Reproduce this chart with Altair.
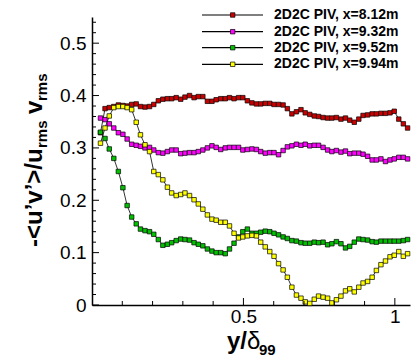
import altair as alt
import pandas as pd

# Wall-normal positions y/delta99 shared by all PIV profiles
X = [0.028, 0.043, 0.057, 0.072, 0.087, 0.102, 0.116, 0.131, 0.146, 0.160,
     0.175, 0.190, 0.204, 0.219, 0.234, 0.249, 0.263, 0.278, 0.293, 0.307,
     0.322, 0.337, 0.351, 0.366, 0.381, 0.396, 0.410, 0.425, 0.440, 0.454,
     0.469, 0.484, 0.498, 0.513, 0.528, 0.543, 0.557, 0.572, 0.587, 0.601,
     0.616, 0.631, 0.645, 0.660, 0.675, 0.690, 0.704, 0.719, 0.734, 0.748,
     0.763, 0.778, 0.792, 0.807, 0.822, 0.837, 0.851, 0.866, 0.881, 0.895,
     0.910, 0.925, 0.939, 0.954, 0.969, 0.984, 0.998, 1.013, 1.028, 1.042]

# Correlation coefficient -<u'v'>/(u_rms v_rms) per streamwise station
X812 = [0.329, 0.375, 0.377, 0.379, 0.382, 0.381, 0.380, 0.383, 0.384, 0.379,
        0.378, 0.379, 0.383, 0.390, 0.393, 0.394, 0.394, 0.396, 0.393, 0.397,
        0.400, 0.396, 0.398, 0.398, 0.389, 0.389, 0.392, 0.394, 0.394, 0.396,
        0.394, 0.396, 0.396, 0.390, 0.386, 0.384, 0.384, 0.385, 0.385, 0.383,
        0.383, 0.382, 0.375, 0.365, 0.369, 0.373, 0.367, 0.364, 0.361, 0.360,
        0.358, 0.357, 0.357, 0.358, 0.355, 0.357, 0.353, 0.349, 0.355, 0.362,
        0.363, 0.365, 0.365, 0.366, 0.366, 0.367, 0.370, 0.355, 0.346, 0.338]
X932 = [0.357, 0.354, 0.346, 0.338, 0.329, 0.326, 0.317, 0.307, 0.305, 0.303,
        0.300, 0.301, 0.296, 0.291, 0.290, 0.293, 0.296, 0.296, 0.289, 0.290,
        0.291, 0.291, 0.293, 0.296, 0.300, 0.304, 0.301, 0.297, 0.300, 0.301,
        0.301, 0.301, 0.296, 0.297, 0.298, 0.297, 0.293, 0.290, 0.291, 0.291,
        0.287, 0.295, 0.302, 0.304, 0.307, 0.305, 0.307, 0.304, 0.305, 0.305,
        0.301, 0.296, 0.293, 0.295, 0.292, 0.294, 0.289, 0.290, 0.290, 0.288,
        0.284, 0.277, 0.277, 0.279, 0.274, 0.277, 0.279, 0.282, 0.282, 0.279]
X952 = [0.330, 0.318, 0.298, 0.280, 0.255, 0.224, 0.190, 0.168, 0.155, 0.145,
        0.142, 0.140, 0.135, 0.125, 0.114, 0.116, 0.119, 0.123, 0.126, 0.125,
        0.124, 0.119, 0.116, 0.113, 0.107, 0.103, 0.100, 0.100, 0.098, 0.107,
        0.118, 0.130, 0.140, 0.145, 0.137, 0.137, 0.139, 0.141, 0.140, 0.137,
        0.134, 0.130, 0.127, 0.123, 0.122, 0.119, 0.118, 0.118, 0.120, 0.119,
        0.120, 0.115, 0.117, 0.121, 0.117, 0.109, 0.112, 0.120, 0.126, 0.125,
        0.124, 0.121, 0.120, 0.122, 0.122, 0.122, 0.122, 0.122, 0.123, 0.125]
X994 = [0.309, 0.338, 0.361, 0.377, 0.379, 0.379, 0.377, 0.373, 0.349, 0.325,
        0.306, 0.293, 0.255, 0.249, 0.239, 0.225, 0.214, 0.209, 0.211, 0.214,
        0.209, 0.201, 0.193, 0.183, 0.172, 0.164, 0.162, 0.158, 0.158, 0.151,
        0.137, 0.128, 0.130, 0.132, 0.133, 0.132, 0.120, 0.111, 0.102, 0.093,
        0.079, 0.067, 0.053, 0.034, 0.019, 0.013, 0.006, 0.003, 0.011, 0.017,
        0.015, 0.013, 0.004, 0.010, 0.017, 0.027, 0.031, 0.025, 0.034, 0.042,
        0.045, 0.053, 0.066, 0.077, 0.084, 0.092, 0.095, 0.102, 0.093, 0.098]

LABELS = ["2D2C PIV, x=8.12m", "2D2C PIV, x=9.32m",
          "2D2C PIV, x=9.52m", "2D2C PIV, x=9.94m"]
COLORS = ["#cc0000", "#ff00ff", "#00c000", "#ffff00"]

Y_TICKS = [0, 0.1, 0.2, 0.3, 0.4, 0.5]
X_TICKS = [0.5, 1]
Y_MINOR = [round(k * 0.02, 2) for k in range(1, 28) if k % 5]
X_MINOR = [0.1, 0.2, 0.3, 0.4, 0.6, 0.7, 0.8, 0.9]

rows = []
for label, ys in zip(LABELS, [X812, X932, X952, X994]):
    for xv, yv in zip(X, ys):
        rows.append({"series": label, "x": xv, "y": yv})
df = pd.DataFrame(rows)

W, H = 318, 288
FONT = "Liberation Sans"
xscale = alt.Scale(domain=[0, 1.05], nice=False, zero=False)
yscale = alt.Scale(domain=[0, 0.55], nice=False)

axis_style = dict(domainColor="black", domainWidth=1.5, ticks=False, grid=False,
                  labelFont=FONT, labelFontSize=19, labelColor="black",
                  format="~g", title=None)
X_AXIS = alt.Axis(values=X_TICKS, labelPadding=2, **axis_style)
Y_AXIS = alt.Axis(values=Y_TICKS, labelPadding=6, **axis_style)

lines = alt.Chart(df).mark_line(color="black", strokeWidth=0.8).encode(
    x=alt.X("x:Q", scale=xscale, axis=X_AXIS),
    y=alt.Y("y:Q", scale=yscale, axis=Y_AXIS),
    detail="series:N",
)
points = alt.Chart(df).mark_square(size=20, stroke="black", strokeWidth=0.7,
                                   opacity=1).encode(
    x=alt.X("x:Q", scale=xscale, axis=X_AXIS),
    y=alt.Y("y:Q", scale=yscale, axis=Y_AXIS),
    fill=alt.Fill("series:N", scale=alt.Scale(domain=LABELS, range=COLORS),
                  legend=None),
)

# inward-pointing tick marks
def yticks(vals, length):
    return alt.Chart(pd.DataFrame({"y": vals})).mark_rule(
        color="black", strokeWidth=1).encode(
        y=alt.Y("y:Q", scale=yscale, axis=Y_AXIS),
        x=alt.value(0), x2=alt.value(length))

def xticks(vals, length):
    return alt.Chart(pd.DataFrame({"x": vals})).mark_rule(
        color="black", strokeWidth=1).encode(
        x=alt.X("x:Q", scale=xscale, axis=X_AXIS),
        y=alt.value(H), y2=alt.value(H - length))

ticks = [yticks(Y_TICKS, 7), yticks(Y_MINOR, 4),
         xticks(X_TICKS, 7), xticks(X_MINOR, 4)]

# legend block in the upper right
legend = []
row_y = [-2, 14.7, 30.7, 47.3]
for label, color, ly in zip(LABELS, COLORS, row_y):
    d = pd.DataFrame({"series": [label]})
    legend.append(alt.Chart(d).mark_rule(color="black", strokeWidth=1.2).encode(
        x=alt.value(110), x2=alt.value(171), y=alt.value(ly)))
    legend.append(alt.Chart(d).mark_square(size=20, stroke="black",
                                           strokeWidth=0.7, opacity=1).encode(
        x=alt.value(140.7), y=alt.value(ly), fill=alt.value(color)))
    legend.append(alt.Chart(d).mark_text(
        align="left", baseline="middle", font=FONT, fontSize=14,
        fontWeight="bold", color="black").encode(
        x=alt.value(182), y=alt.value(ly), text="series:N"))

def label_text(txt, x, y, size, angle=0, weight="bold"):
    return alt.Chart(pd.DataFrame({"t": [txt]})).mark_text(
        align="left", baseline="alphabetic", font=FONT, fontSize=size,
        fontWeight=weight, color="black", angle=angle).encode(
        x=alt.value(x), y=alt.value(y), text="t:N")

# axis titles with subscripts
BIG, SUB = 24, 15
titles = [
    label_text("y/", 135, 332, BIG),
    label_text("δ", 155, 332, BIG, weight="normal"),
    label_text("99", 167, 338, SUB),
    label_text("-<u’v’>/u", -50, 230, BIG, angle=270),
    label_text("rms", -45, 131, SUB, angle=270),
    label_text("v", -50, 97, BIG, angle=270),
    label_text("rms", -45, 84, SUB, angle=270),
]

chart = alt.layer(lines, points, *ticks, *legend, *titles).properties(
    width=W, height=H,
    autosize=alt.AutoSizeParams(type="none"),
    padding={"left": 92, "top": 17, "right": 1, "bottom": 53},
).configure_view(stroke=None)

chart.save("out.html", embed_options={"renderer": "svg", "actions": False})
